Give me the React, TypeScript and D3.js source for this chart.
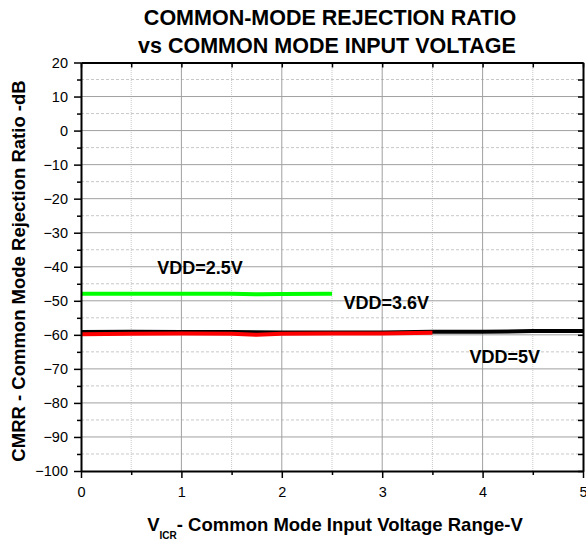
import React, { useEffect, useRef } from "react";
import * as d3 from "d3";

// data
const vGreen = [0, 0.5, 1, 1.5, 1.75, 2, 2.5];
const cmrrGreen = [-47.9, -47.9, -47.9, -47.9, -48.1, -48.0, -47.9];

const vRed = [0, 0.5, 1, 1.5, 1.75, 2, 2.5, 3, 3.5];
const cmrrRed = [-59.8, -59.7, -59.6, -59.7, -60.0, -59.7, -59.6, -59.6, -59.4];

const vBlack = [0, 0.5, 1, 1.5, 2, 2.5, 3, 3.5, 4, 4.5, 5];
const cmrrBlack = [-59.2, -59.1, -59.2, -59.2, -59.3, -59.3, -59.3, -59.1, -59.1, -58.9, -58.9];

const xTicks = [0, 1, 2, 3, 4, 5];
const yTicks = [20, 10, 0, -10, -20, -30, -40, -50, -60, -70, -80, -90, -100];
const xMinor = [0.5, 1.5, 2.5, 3.5, 4.5];
const yMinor = [15, 5, -5, -15, -25, -35, -45, -55, -65, -75, -85, -95];

const labels = [
  { text: "VDD=2.5V", x: 1.185, y: -42.1 },
  { text: "VDD=3.6V", x: 3.04, y: -52.4 },
  { text: "VDD=5V", x: 4.22, y: -68.3 },
];

const W = 586;
const H = 541;
const m = { left: 81, right: 3, top: 62.5, bottom: 70 };
const FONT = "'Liberation Sans', Arial, sans-serif";

export default function App() {
  const ref = useRef<SVGSVGElement>(null);

  useEffect(() => {
    const svg = d3.select(ref.current);
    svg.selectAll("*").remove();

    const x = d3.scaleLinear().domain([0, 5]).range([m.left, W - m.right]);
    const y = d3.scaleLinear().domain([-100, 20]).range([H - m.bottom, m.top]);

    const g = svg.append("g");

    // minor grid, dotted
    g.selectAll(".mgx").data(xMinor).join("line")
      .attr("x1", d => x(d)).attr("x2", d => x(d))
      .attr("y1", y(-100)).attr("y2", y(20))
      .attr("stroke", "#c8c8c8").attr("stroke-dasharray", "1,1");
    g.selectAll(".mgy").data(yMinor).join("line")
      .attr("x1", x(0)).attr("x2", x(5))
      .attr("y1", d => y(d)).attr("y2", d => y(d))
      .attr("stroke", "#c8c8c8").attr("stroke-dasharray", "3,2");

    // major grid
    g.selectAll(".gx").data(xTicks.slice(1, -1)).join("line")
      .attr("x1", d => x(d)).attr("x2", d => x(d))
      .attr("y1", y(-100)).attr("y2", y(20))
      .attr("stroke", "#a0a0a0").attr("stroke-width", 1);
    g.selectAll(".gy").data(yTicks.slice(1, -1)).join("line")
      .attr("x1", x(0)).attr("x2", x(5))
      .attr("y1", d => y(d)).attr("y2", d => y(d))
      .attr("stroke", "#a0a0a0").attr("stroke-width", 1);

    // series
    const line = d3.line<[number, number]>().x(d => x(d[0])).y(d => y(d[1]));
    const series = [
      { xs: vBlack, ys: cmrrBlack, color: "#000000" },
      { xs: vRed, ys: cmrrRed, color: "#ff0000" },
      { xs: vGreen, ys: cmrrGreen, color: "#00ff00" },
    ];
    series.forEach(s => {
      g.append("path")
        .datum(s.xs.map((v, i) => [v, s.ys[i]] as [number, number]))
        .attr("d", line)
        .attr("fill", "none")
        .attr("stroke", s.color)
        .attr("stroke-width", 4);
    });

    // axes (major ticks with labels)
    const fmt = d3.format("d");
    const xa = svg.append("g").attr("transform", `translate(0,${y(-100)})`)
      .call(d3.axisBottom(x).tickValues(xTicks).tickFormat(d => fmt(Number(d)))
        .tickSize(7).tickPadding(9).tickSizeOuter(0));
    const ya = svg.append("g").attr("transform", `translate(${x(0)},0)`)
      .call(d3.axisLeft(y).tickValues(yTicks).tickFormat(d => fmt(Number(d)))
        .tickSize(7).tickPadding(6).tickSizeOuter(0));
    [xa, ya].forEach(a => {
      a.select(".domain").attr("stroke-width", 2);
      a.selectAll(".tick line").attr("stroke-width", 1.5);
      a.selectAll("text").attr("font-family", FONT).attr("font-size", 14.5).attr("fill", "#000");
    });

    // minor ticks
    svg.append("g").attr("transform", `translate(0,${y(-100)})`)
      .call(d3.axisBottom(x).tickValues(xMinor).tickSize(4).tickFormat(() => "").tickSizeOuter(0))
      .call(a => a.select(".domain").remove())
      .selectAll(".tick line").attr("stroke-width", 1.5);
    svg.append("g").attr("transform", `translate(${x(0)},0)`)
      .call(d3.axisLeft(y).tickValues(yMinor).tickSize(4).tickFormat(() => "").tickSizeOuter(0))
      .call(a => a.select(".domain").remove())
      .selectAll(".tick line").attr("stroke-width", 1.5);

    // top and right frame, inward ticks
    const top = svg.append("g").attr("transform", `translate(0,${y(20)})`)
      .call(d3.axisBottom(x).tickValues([...xTicks, ...xMinor]).tickFormat(() => "").tickSize(5).tickSizeOuter(0));
    top.select(".domain").attr("stroke-width", 2);
    top.selectAll(".tick line").attr("stroke-width", 1.5);
    const right = svg.append("g").attr("transform", `translate(${x(5)},0)`)
      .call(d3.axisRight(y).tickValues([...yTicks, ...yMinor]).tickFormat(() => "").tickSize(-5).tickSizeOuter(0));
    right.select(".domain").attr("stroke-width", 2);
    right.selectAll(".tick line").attr("stroke-width", 1.5);

    // series labels
    svg.selectAll(".lbl").data(labels).join("text")
      .attr("x", d => x(d.x)).attr("y", d => y(d.y))
      .attr("text-anchor", "middle")
      .attr("font-family", FONT).attr("font-weight", "bold").attr("font-size", 18)
      .text(d => d.text);

    // title
    const t = svg.append("text").attr("text-anchor", "middle")
      .attr("font-family", FONT).attr("font-weight", "bold").attr("font-size", 21.5);
    t.append("tspan").attr("x", 330).attr("y", 25).text("COMMON-MODE REJECTION RATIO");
    t.append("tspan").attr("x", 327).attr("y", 53).text("vs COMMON MODE INPUT VOLTAGE");

    // y axis title
    svg.append("text")
      .attr("transform", `translate(25,271) rotate(-90)`)
      .attr("text-anchor", "middle")
      .attr("font-family", FONT).attr("font-weight", "bold").attr("font-size", 18.5)
      .text("CMRR - Common Mode Rejection Ratio -dB");

    // x axis title
    const xt = svg.append("text").attr("x", 335).attr("y", 530.5).attr("text-anchor", "middle")
      .attr("font-family", FONT).attr("font-weight", "bold").attr("font-size", 18.5);
    xt.append("tspan").text("V");
    xt.append("tspan").attr("font-size", 10).attr("dy", 8).text("ICR");
    xt.append("tspan").attr("dy", -8).text("- Common Mode Input Voltage Range-V");
  }, []);

  return (
    <svg ref={ref} width={W} height={H} style={{ position: "absolute", left: 0, top: 0, background: "#fff" }} />
  );
}
